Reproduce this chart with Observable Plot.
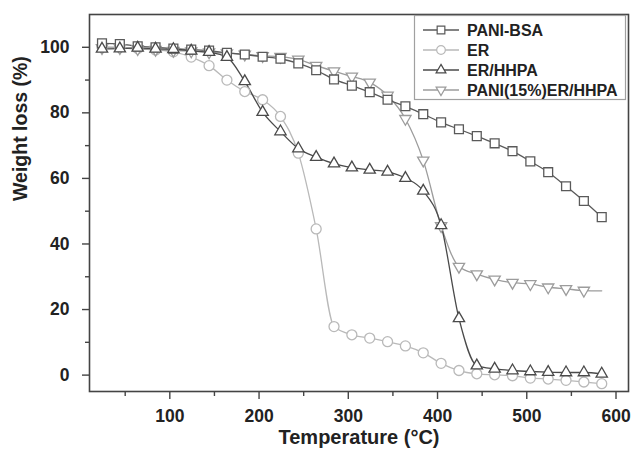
<!DOCTYPE html>
<html>
<head>
<meta charset="utf-8">
<script src="https://cdn.jsdelivr.net/npm/d3@7"></script>
<script src="https://cdn.jsdelivr.net/npm/@observablehq/plot@0.6"></script>
<style>
  html, body { margin: 0; padding: 0; background: #fff; }
  #chart svg { display: block; }
</style>
</head>
<body>
<div id="chart"></div>
<script>
// ---- data ----
const temperature = [24,44,64,84,104,124,144,164,184,204,224,244,264,284,304,324,344,364,384,404,424,444,464,484,504,524,544,564,584];

const seriesNames = ["PANI-BSA", "ER", "ER/HHPA", "PANI(15%)ER/HHPA"];

const paniBsa = [101.2,101.0,100.3,100.0,99.6,99.3,99.0,98.3,97.8,97.1,96.5,95.1,93.0,90.2,88.3,86.3,84.0,82.0,79.6,77.1,75.0,72.9,70.7,68.3,65.2,61.9,57.6,53.1,48.2];
const er = [100.2,100.0,99.6,99.2,98.6,97.0,94.4,90.0,86.5,84.0,78.9,67.7,44.6,14.8,12.3,11.3,10.2,8.9,6.8,3.6,1.4,0.4,0.1,-0.2,-0.9,-1.2,-1.6,-2.1,-2.6];
const erHhpa = [99.5,99.6,99.8,99.5,99.4,98.9,98.5,97.0,89.6,80.2,74.3,69.1,66.5,64.5,63.3,62.6,62.0,60.1,56.2,45.7,17.3,2.9,1.9,1.4,1.1,0.9,0.8,0.8,0.4];
const pani15 = [99.8,99.8,99.5,99.3,99.0,98.8,98.5,98.2,97.8,97.4,97.1,96.3,94.4,92.7,91.1,89.3,85.3,78.2,65.5,45.5,33.1,30.8,29.2,28.2,27.8,26.8,26.3,25.8,25.7];
// PANI(15%)ER/HHPA has no marker on its last point
const markerCount = [29, 29, 29, 28];

const xTicks = [100,200,300,400,500,600];
const xMinorTicks = [50,150,250,350,450,550];
const yTicks = [0,20,40,60,80,100];
const yMinorTicks = [10,30,50,70,90];

// ---- styles ----
const seriesValues = [paniBsa, er, erHhpa, pani15];
const seriesColor = ["#5a5a5a", "#b9b9b9", "#4a4a4a", "#9c9c9c"];
const seriesSymbol = ["square", "circle", "triangle", "triangle"];
const seriesRotate = [0, 0, 0, 180];
const seriesR = [5, 5, 4.2, 4.2];

const series = seriesNames.map((name, k) => ({
  name,
  color: seriesColor[k],
  symbol: seriesSymbol[k],
  rotate: seriesRotate[k],
  r: seriesR[k],
  rows: temperature.map((t, i) => ({T: t, W: seriesValues[k][i]})),
  markers: temperature.slice(0, markerCount[k]).map((t, i) => ({T: t, W: seriesValues[k][i]}))
}));

const FONT = "'Liberation Sans', Arial, Helvetica, sans-serif";
const drawOrder = [1, 3, 0, 2];

const marks = [];
for (const k of drawOrder) {
  const s = series[k];
  marks.push(Plot.line(s.rows, {x: "T", y: "W", stroke: s.color, strokeWidth: 1.3, curve: "monotone-x"}));
}
for (const k of drawOrder) {
  const s = series[k];
  marks.push(Plot.dot(s.markers, {x: "T", y: "W", symbol: s.symbol, r: s.r, rotate: s.rotate,
    stroke: s.color, strokeWidth: 1.3, fill: "white"}));
}

const chart = Plot.plot({
  width: 636,
  height: 450,
  marginLeft: 89,
  marginRight: 8,
  marginTop: 14,
  marginBottom: 59,
  style: {fontFamily: FONT, background: "white", color: "#222"},
  x: {domain: [10, 614]},
  y: {domain: [-5, 110]},
  marks: [
    ...marks,
    Plot.frame({stroke: "#444", strokeWidth: 1.6}),
    Plot.axisX(xTicks, {tickSize: 8, tickPadding: 10, fontSize: 17.5, fontWeight: "bold", label: null, stroke: "#444", strokeWidth: 1.4}),
    Plot.axisX(xMinorTicks, {tickSize: 5, text: null, label: null, stroke: "#444", strokeWidth: 1.4}),
    Plot.axisY(yTicks, {tickSize: 7, tickPadding: 13, fontSize: 17.5, fontWeight: "bold", label: null, stroke: "#444", strokeWidth: 1.4}),
    Plot.axisY(yMinorTicks, {tickSize: 4, text: null, label: null, stroke: "#444", strokeWidth: 1.4}),
    Plot.text(["Temperature (°C)"], {frameAnchor: "bottom", dy: 52, fontSize: 20, fontWeight: "bold", fill: "#222"}),
    Plot.text(["Weight loss (%)"], {frameAnchor: "left", dx: -69, dy: -2, rotate: -90, fontSize: 19.5, fontWeight: "bold", fill: "#222"})
  ]
});

document.getElementById("chart").appendChild(chart);

// ---- legend inside the plot (top right) ----
const svg = d3.select(chart);
const lg = svg.append("g").attr("class", "legend").attr("text-anchor", "start");
lg.append("rect")
  .attr("x", 414.5).attr("y", 15.5).attr("width", 211).attr("height", 84)
  .attr("fill", "white").attr("stroke", "#a0a0a0").attr("stroke-width", 1.2);
const symbolType = {square: d3.symbolSquare, circle: d3.symbolCircle, triangle: d3.symbolTriangle};
series.forEach((s, i) => {
  const cy = 30 + i * 20;
  lg.append("line").attr("x1", 423).attr("x2", 459).attr("y1", cy).attr("y2", cy)
    .attr("stroke", s.color).attr("stroke-width", 1.3);
  lg.append("path")
    .attr("d", d3.symbol(symbolType[s.symbol], Math.PI * s.r * s.r * 0.75)())
    .attr("transform", `translate(441,${cy}) rotate(${s.rotate})`)
    .attr("fill", "white").attr("stroke", s.color).attr("stroke-width", 1.2);
  lg.append("text").attr("x", 467).attr("y", cy).attr("dy", "0.35em")
    .attr("text-anchor", "start")
    .attr("font-family", FONT).attr("font-size", 16).attr("font-weight", "bold")
    .attr("fill", "#222").text(s.name);
});
</script>
</body>
</html>
